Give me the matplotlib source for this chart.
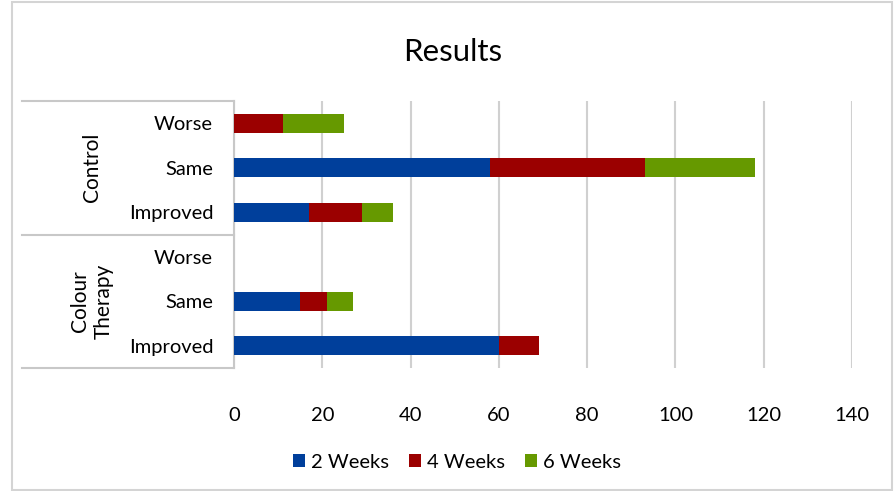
import matplotlib.pyplot as plt
from matplotlib.patches import Rectangle
import numpy as np

plt.rcParams['font.family'] = ['Lato', 'DejaVu Sans']

# rows from top to bottom
groups = ["Control", "Colour\nTherapy"]
outcomes = ["Worse", "Same", "Improved"]
series = ["2 Weeks", "4 Weeks", "6 Weeks"]
colors = ["#003f9b", "#9b0000", "#669900"]

# Control: Worse, Same, Improved, then Colour Therapy: Worse, Same, Improved
weeks2 = [0, 58, 17, 0, 15, 60]
weeks4 = [11, 35, 12, 0, 6, 9]
weeks6 = [14, 25, 7, 0, 6, 0]
xticks = [0, 20, 40, 60, 80, 100, 120, 140]

W, H = 894, 491
fig = plt.figure(figsize=(W / 100, H / 100), dpi=100)
ax = fig.add_axes([234 / W, 1 - 368 / H, (852 - 234) / W, (368 - 101) / H])

y = np.arange(len(weeks2))
left = np.zeros(len(y))
for vals, name, c in zip([weeks2, weeks4, weeks6], series, colors):
    ax.barh(y, vals, left=left, height=0.43, color=c, label=name, zorder=3)
    left += np.array(vals)

ax.set_ylim(len(y) - 0.5, -0.5)
ax.set_xlim(0, 140)
ax.set_xticks(xticks)
ax.xaxis.grid(True, color="#d0d0d0", lw=1.5, zorder=0)
ax.tick_params(axis="x", length=0, pad=28, labelsize=14.5)
ax.tick_params(axis="y", length=0, pad=15, labelsize=14.5)
ax.set_yticks(y)
ax.set_yticklabels(outcomes * 2)
for s in ["top", "right", "bottom"]:
    ax.spines[s].set_visible(False)
ax.spines["left"].set_color("#c8c8c8")
ax.spines["left"].set_linewidth(1.5)

# group label box
x0 = (22 - 234) / 618
for yy in [0, 0.5, 1]:
    ax.plot([x0, 0], [yy, yy], transform=ax.transAxes, color="#c8c8c8",
            lw=1.5, clip_on=False)
gx = (92 - 234) / 618
ax.text(gx, 0.75, groups[0], transform=ax.transAxes, rotation=90,
        ha="center", va="center", fontsize=15)
ax.text(gx, 0.25, groups[1], transform=ax.transAxes, rotation=90,
        ha="center", va="center", fontsize=15, linespacing=1.2)

fig.text(453 / W, 1 - 52 / H, "Results", ha="center", va="center", fontsize=22.5)

fig.legend(loc="center", bbox_to_anchor=(457 / W, 1 - 462 / H), ncol=3,
           frameon=False, fontsize=14.5, handlelength=0.6, handleheight=0.6,
           columnspacing=1.0, handletextpad=0.3)

fig.patches.append(Rectangle((12 / W, 1 / H), (892 - 12) / W, (489 - 1) / H,
                             transform=fig.transFigure, fill=False,
                             edgecolor="#d4d4d4", lw=1.5))

fig.savefig("out.png", dpi=100)
